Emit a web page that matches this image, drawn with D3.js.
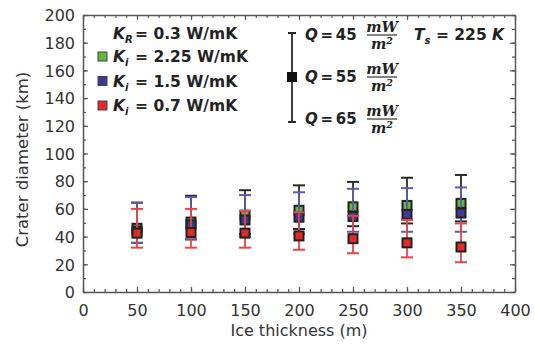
<!DOCTYPE html>
<html>
<head>
<meta charset="utf-8">
<script src="https://cdn.jsdelivr.net/npm/d3@7"></script>
<style>
  body { margin: 0; background: #fff; }
  svg { display: block; }
  .tick-label { font-family: "DejaVu Sans", sans-serif; font-size: 16px; fill: #333; }
  .title { font-family: "DejaVu Sans", sans-serif; font-size: 16px; fill: #333; }
  .leg { font-family: "DejaVu Sans", sans-serif; font-size: 15.5px; font-weight: bold; fill: #222; }
  .frac { font-family: "DejaVu Serif", serif; font-size: 14.5px; font-style: italic; font-weight: bold; fill: #222; }
</style>
</head>
<body>
<div id="chart"></div>
<script>
// ice thickness (m)
const thickness = [50, 100, 150, 200, 250, 300, 350];

// K_i = 2.25 W/mK : Q = 55 marker, Q = 45 upper, Q = 65 lower
const green55 = [46, 50.5, 55.5, 59, 61.5, 62.5, 64];
const green45 = [64.5, 69.5, 73.5, 77, 79.5, 82.5, 84.5];
const green65 = [35.5, 38, 42, 45.5, 47.5, 49.5, 51];

// K_i = 1.5 W/mK
const blue55 = [44, 48.5, 52, 54, 54.5, 56, 57];
const blue45 = [64.5, 68.5, 70, 72, 74.5, 75, 75.5];
const blue65 = [35.5, 38, 40, 42, 43.5, 43.5, 43.5];

// K_i = 0.7 W/mK
const red55 = [42.5, 43, 42.5, 40.5, 38.5, 35.5, 32.5];
const red45 = [60, 60, 58.5, 57.5, 55, 52, 49.5];
const red65 = [32, 32, 32, 30.5, 28, 25, 21.5];

const xTicks = [0, 50, 100, 150, 200, 250, 300, 350, 400];
const yTicks = [0, 20, 40, 60, 80, 100, 120, 140, 160, 180, 200];

const W = 535, H = 345;
const mLeft = 83, mRight = 515, mTop = 15, mBottom = 292;

const svg = d3.select('#chart').append('svg')
  .attr('width', W).attr('height', H);

const x = d3.scaleLinear().domain([0, 400]).range([mLeft, mRight]);
const y = d3.scaleLinear().domain([0, 200]).range([mBottom, mTop]);

const axisColor = '#555';

// frame with inward ticks on all four sides
function drawAxis(axis, transform, minorTicks, majorTicks, showLabels) {
  const gMinor = svg.append('g').attr('transform', transform)
    .call(axis.tickValues(minorTicks).tickSize(3).tickFormat(''));
  gMinor.select('.domain').remove();
  gMinor.selectAll('line').attr('stroke', axisColor).attr('stroke-width', 1.2);
  const g = svg.append('g').attr('transform', transform)
    .call(axis.tickValues(majorTicks).tickSize(5).tickSizeOuter(0).tickFormat(showLabels ? d3.format('d') : ''));
  g.select('.domain').attr('stroke', axisColor).attr('stroke-width', 1.5);
  g.selectAll('line').attr('stroke', axisColor).attr('stroke-width', 1.2);
  return g;
}

const xMinor = d3.range(0, 401, 10);
const yMinor = d3.range(0, 201, 10);

const gx = drawAxis(d3.axisTop(x), `translate(0,${mBottom})`, xMinor, xTicks, true);
gx.selectAll('text').attr('class', 'tick-label').attr('y', 24).attr('dy', 0);
drawAxis(d3.axisBottom(x), `translate(0,${mTop})`, xMinor, xTicks, false);
const gy = drawAxis(d3.axisRight(y), `translate(${mLeft},0)`, yMinor, yTicks, true);
gy.selectAll('text').attr('class', 'tick-label').attr('x', -8).attr('dy', '0.36em')
  .attr('text-anchor', 'end');
drawAxis(d3.axisLeft(y), `translate(${mRight},0)`, yMinor, yTicks, false);

// axis titles
svg.append('text').attr('class', 'title')
  .attr('x', (mLeft + mRight) / 2).attr('y', 336).attr('text-anchor', 'middle')
  .text('Ice thickness (m)');
svg.append('text').attr('class', 'title')
  .attr('transform', `translate(28,${(mTop + mBottom) / 2 + 6}) rotate(-90)`)
  .attr('text-anchor', 'middle').style('font-size', '16.5px')
  .text('Crater diameter (km)');

// series
const series = [
  { mid: green55, hi: green45, lo: green65, fill: '#63b83e', bar: '#2a2a2a' },
  { mid: blue55, hi: blue45, lo: blue65, fill: '#3b3b95', bar: '#5c5cab' },
  { mid: red55, hi: red45, lo: red65, fill: '#e32a26', bar: '#ea4444' }
];

const cap = 6, ms = 9;
series.forEach(s => {
  const g = svg.append('g');
  const pts = thickness.map((t, i) => ({ t, mid: s.mid[i], hi: s.hi[i], lo: s.lo[i] }));
  g.selectAll('line.stem').data(pts).enter().append('line')
    .attr('x1', d => x(d.t)).attr('x2', d => x(d.t))
    .attr('y1', d => y(d.hi)).attr('y2', d => y(d.lo))
    .attr('stroke', s.bar).attr('stroke-width', 1.8);
  g.selectAll('line.hi').data(pts).enter().append('line')
    .attr('x1', d => x(d.t) - cap).attr('x2', d => x(d.t) + cap)
    .attr('y1', d => y(d.hi)).attr('y2', d => y(d.hi))
    .attr('stroke', s.bar).attr('stroke-width', 2);
  g.selectAll('line.lo').data(pts).enter().append('line')
    .attr('x1', d => x(d.t) - cap).attr('x2', d => x(d.t) + cap)
    .attr('y1', d => y(d.lo)).attr('y2', d => y(d.lo))
    .attr('stroke', s.bar).attr('stroke-width', 2);
  g.selectAll('rect').data(pts).enter().append('rect')
    .attr('x', d => x(d.t) - ms / 2).attr('y', d => y(d.mid) - ms / 2)
    .attr('width', ms).attr('height', ms)
    .attr('fill', s.fill).attr('stroke', '#222').attr('stroke-width', 2);
});

// legend: conductivities
const leg = svg.append('g');
const kRow = leg.append('text').attr('class', 'leg').attr('x', 113).attr('y', 38.5);
kRow.append('tspan').style('font-style', 'italic').text('K');
kRow.append('tspan').style('font-style', 'italic').style('font-size', '10px').attr('dy', 4).text('R');
leg.append('text').attr('class', 'leg').attr('x', 135).attr('y', 38.5).text('= 0.3 W/mK');

const legRows = [
  { label: '= 2.25 W/mK', fill: '#63b83e', yb: 62 },
  { label: '= 1.5 W/mK', fill: '#3b3b95', yb: 86.5 },
  { label: '= 0.7 W/mK', fill: '#e32a26', yb: 111 }
];
legRows.forEach(r => {
  leg.append('rect').attr('x', 98).attr('y', r.yb - 10).attr('width', 9).attr('height', 9)
    .attr('fill', r.fill).attr('stroke', '#444').attr('stroke-width', 1);
  const t = leg.append('text').attr('class', 'leg').attr('x', 113).attr('y', r.yb);
  t.append('tspan').style('font-style', 'italic').text('K');
  t.append('tspan').style('font-style', 'italic').style('font-size', '10px').attr('dy', 4).text('i');
  leg.append('text').attr('class', 'leg').attr('x', 135).attr('y', r.yb).text(r.label);
});

// legend: heat flow error bar
const qx = 292;
leg.append('line').attr('x1', qx).attr('x2', qx).attr('y1', 33).attr('y2', 122)
  .attr('stroke', '#2a2a2a').attr('stroke-width', 1.8);
[33, 122].forEach(v => leg.append('line').attr('x1', qx - 4).attr('x2', qx + 4)
  .attr('y1', v).attr('y2', v).attr('stroke', '#2a2a2a').attr('stroke-width', 2));
leg.append('rect').attr('x', qx - 5).attr('y', 72).attr('width', 10).attr('height', 10).attr('fill', '#111');

const qLabels = ['45', '55', '65'];
const qRows = [35, 77, 119];
qLabels.forEach((q, i) => {
  const cy = qRows[i];
  const t = leg.append('text').attr('class', 'leg').attr('x', 305).attr('y', cy + 5)
    .style('font-size', '15px').style('word-spacing', '-2.5px');
  t.append('tspan').style('font-style', 'italic').text('Q');
  t.append('tspan').text(' = ' + q);
  leg.append('text').attr('class', 'frac').attr('x', 382).attr('y', cy - 3)
    .attr('text-anchor', 'middle').text('mW');
  leg.append('line').attr('x1', 367).attr('x2', 397).attr('y1', cy).attr('y2', cy)
    .attr('stroke', '#333').attr('stroke-width', 1.2);
  const d = leg.append('text').attr('class', 'frac').attr('x', 382).attr('y', cy + 14)
    .attr('text-anchor', 'middle');
  d.append('tspan').text('m');
  d.append('tspan').attr('dy', -5).style('font-size', '9.5px').text('2');
});

// surface temperature
const ts = leg.append('text').attr('class', 'leg').attr('x', 414).attr('y', 40);
ts.append('tspan').style('font-style', 'italic').text('T');
ts.append('tspan').style('font-style', 'italic').style('font-size', '10px').attr('dy', 4).text('s');
ts.append('tspan').attr('dy', -4).text(' = 225 ');
ts.append('tspan').style('font-style', 'italic').text('K');
</script>
</body>
</html>
